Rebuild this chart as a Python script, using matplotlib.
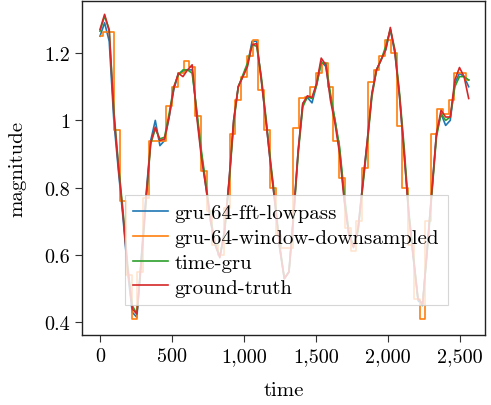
import matplotlib
matplotlib.use("Agg")
import matplotlib.pyplot as plt
from matplotlib.ticker import FuncFormatter
import numpy as np

# values
t_smooth = np.arange(0, 2561, 32)

ground_truth = [1.27, 1.315, 1.265, 1.02, 0.86, 0.72, 0.56, 0.44, 0.425, 0.59,
                0.77, 0.935, 0.98, 0.94, 0.945, 1.01, 1.095, 1.14, 1.13, 1.15,
                1.165, 1.01, 0.89, 0.80, 0.70, 0.63, 0.592, 0.67, 0.82, 1.0,
                1.1, 1.13, 1.16, 1.225, 1.228, 1.12, 1.0, 0.87, 0.75, 0.62,
                0.53, 0.55, 0.72, 0.91, 1.05, 1.073, 1.068, 1.11, 1.185, 1.165,
                1.06, 0.99, 0.90, 0.76, 0.66, 0.622, 0.68, 0.81, 0.94, 1.08,
                1.15, 1.18, 1.21, 1.276, 1.20, 1.07, 0.90, 0.72, 0.59, 0.47,
                0.455, 0.62, 0.79, 0.96, 1.03, 1.01, 1.01, 1.12, 1.157, 1.13,
                1.065]

fft_lowpass = [1.25, 1.29, 1.235, 1.0, 0.85, 0.71, 0.55, 0.43, 0.415, 0.6,
               0.78, 0.94, 1.0, 0.925, 0.94, 1.01, 1.09, 1.14, 1.145, 1.15,
               1.15, 1.02, 0.90, 0.80, 0.70, 0.63, 0.595, 0.67, 0.82, 1.0,
               1.1, 1.13, 1.165, 1.235, 1.235, 1.12, 1.0, 0.87, 0.75, 0.62,
               0.53, 0.55, 0.72, 0.91, 1.05, 1.068, 1.052, 1.105, 1.175, 1.16,
               1.07, 1.0, 0.91, 0.77, 0.66, 0.625, 0.68, 0.81, 0.94, 1.08,
               1.15, 1.18, 1.21, 1.27, 1.2, 1.07, 0.9, 0.72, 0.59, 0.465,
               0.45, 0.62, 0.79, 0.96, 1.02, 0.985, 1.0, 1.11, 1.14, 1.13,
               1.10]

time_gru = [1.265, 1.31, 1.27, 1.03, 0.87, 0.73, 0.57, 0.45, 0.425, 0.58,
            0.76, 0.93, 0.975, 0.945, 0.95, 1.02, 1.1, 1.135, 1.15, 1.15,
            1.14, 1.03, 0.91, 0.81, 0.71, 0.635, 0.595, 0.66, 0.81, 0.99,
            1.1, 1.135, 1.17, 1.225, 1.22, 1.13, 1.01, 0.88, 0.76, 0.63,
            0.53, 0.55, 0.71, 0.9, 1.04, 1.07, 1.065, 1.105, 1.17, 1.17,
            1.08, 1.0, 0.92, 0.78, 0.67, 0.625, 0.67, 0.80, 0.93, 1.07,
            1.15, 1.18, 1.22, 1.27, 1.21, 1.08, 0.92, 0.73, 0.60, 0.47,
            0.455, 0.61, 0.78, 0.95, 1.02, 1.0, 1.01, 1.1, 1.13, 1.13,
            1.12]

t_window = np.arange(0, 2561, 40)
window_down = [1.25, 1.262, 1.262, 0.97, 0.76, 0.54, 0.41, 0.55, 0.77, 0.94,
               0.94, 0.94, 1.043, 1.10, 1.14, 1.175, 1.16, 1.013, 0.85, 0.73,
               0.63, 0.60, 0.74, 0.96, 1.06, 1.13, 1.19, 1.24, 1.09, 0.97,
               0.80, 0.66, 0.62, 0.62, 0.976, 1.066, 1.07, 1.10, 1.14, 1.17,
               1.10, 0.94, 0.83, 0.68, 0.612, 0.70, 0.86, 1.113, 1.15, 1.19,
               1.24, 1.20, 0.984, 0.80, 0.63, 0.47, 0.41, 0.70, 0.96, 1.035,
               1.02, 1.06, 1.14, 1.14, 1.12]

plt.rcParams['font.family'] = 'cmr10'
plt.rcParams['axes.formatter.use_mathtext'] = True
plt.rcParams['font.size'] = 14.5

fig = plt.figure(figsize=(4.91, 4.06), dpi=100)
ax = fig.add_axes([0.167, 0.172, 0.821, 0.823])

ax.plot(t_smooth, fft_lowpass, color='#1f77b4', lw=1.2, label='gru-64-fft-lowpass')
ax.plot(t_window, window_down, color='#ff7f0e', lw=1.2, drawstyle='steps-mid',
        label='gru-64-window-downsampled')
ax.plot(t_smooth, time_gru, color='#2ca02c', lw=1.2, label='time-gru')
ax.plot(t_smooth, ground_truth, color='#d62728', lw=1.2, label='ground-truth')

ax.set_xlim(-125, 2674)
ax.set_ylim(0.362, 1.3545)
ax.set_xticks([0, 500, 1000, 1500, 2000, 2500])
ax.set_yticks([0.4, 0.6, 0.8, 1.0, 1.2])
ax.xaxis.set_major_formatter(FuncFormatter(lambda v, p: f"{v:,.0f}"))
ax.yaxis.set_major_formatter(FuncFormatter(lambda v, p: f"{v:g}"))
ax.tick_params(direction='out', length=5, width=0.8, color='#333333')
for s in ax.spines.values():
    s.set_linewidth(1.0)
    s.set_color('#222222')

ax.set_xlabel('time', fontsize=15, labelpad=12)
ax.set_ylabel('magnitude', fontsize=15, labelpad=13)

leg = ax.legend(loc='lower left', bbox_to_anchor=(0.106, 0.09), frameon=True,
                fancybox=False, framealpha=0.8, edgecolor='#cccccc', fontsize=15,
                handlelength=1.7, handletextpad=0.3, labelspacing=0.3,
                borderpad=0.4, borderaxespad=0)
leg.get_frame().set_linewidth(0.8)

fig.savefig('out.png', dpi=100)
